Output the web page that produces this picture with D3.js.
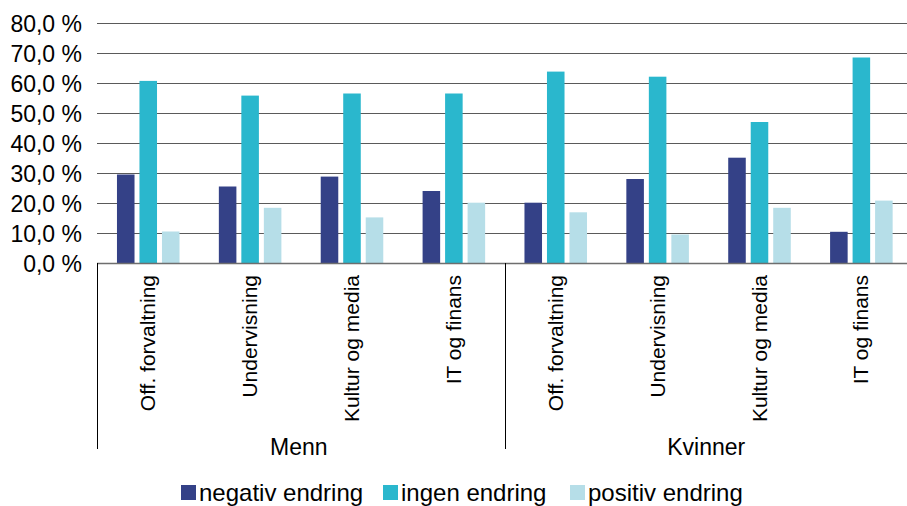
<!DOCTYPE html>
<html>
<head>
<meta charset="utf-8">
<script src="https://cdn.jsdelivr.net/npm/d3@7"></script>
<style>
  html, body { margin: 0; padding: 0; background: #fff; }
  svg { display: block; font-family: "Liberation Sans", Arial, sans-serif; }
</style>
</head>
<body>
<svg id="chart" width="907" height="506"></svg>
<script>
const groups = ["Menn", "Kvinner"];
const categories = ["Off. forvaltning", "Undervisning", "Kultur og media", "IT og finans"];
const seriesNames = ["negativ endring", "ingen endring", "positiv endring"];
const seriesColors = ["#344187", "#2AB7CD", "#B6DEE8"];
const negativ = [29.5, 25.5, 28.8, 24.0, 20.1, 28.0, 35.1, 10.4];
const ingen   = [60.7, 55.8, 56.5, 56.5, 63.8, 62.1, 47.0, 68.5];
const positiv = [10.5, 18.4, 15.2, 20.1, 16.9, 9.5, 18.4, 20.8];
const yTicks = [0, 10, 20, 30, 40, 50, 60, 70, 80];

const seriesValues = [negativ, ingen, positiv];
const rows = [];
groups.forEach((g, gi) => categories.forEach((c, ci) => {
  const idx = gi * categories.length + ci;
  rows.push({ key: g + "|" + c, group: g, cat: c, values: seriesValues.map(s => s[idx]) });
}));

const svg = d3.select("#chart");
const pLeft = 97, pRight = 912, pTop = 23, pBottom = 263;

const y = d3.scaleLinear().domain([0, 80]).range([pBottom, pTop]);
const x0 = d3.scaleBand().domain(rows.map(r => r.key)).range([pLeft, pRight]).padding(0);
const bw = x0.bandwidth();
const x1 = d3.scaleBand().domain(seriesNames).range([bw * 0.196, bw * 0.81]).paddingInner(0.22);
const xg = d3.scaleBand().domain(groups).range([pLeft, pRight]).padding(0);

// gridlines
svg.append("g").selectAll("line").data(yTicks.filter(t => t > 0)).join("line")
  .attr("x1", pLeft).attr("x2", pRight)
  .attr("y1", d => Math.round(y(d)) + 0.5).attr("y2", d => Math.round(y(d)) + 0.5)
  .attr("stroke", "#5a5a5a").attr("stroke-width", 1);

// y axis labels
const yAxis = d3.axisLeft(y).tickValues(yTicks).tickSize(0).tickPadding(0)
  .tickFormat(d => d3.format(".1f")(d).replace(".", ",") + " %");
const ya = svg.append("g").attr("transform", `translate(${pLeft - 15},0)`).call(yAxis);
ya.select(".domain").remove();
ya.selectAll("text").attr("font-size", 23).attr("fill", "#000")
  .attr("font-family", "Liberation Sans, Arial, sans-serif").attr("dy", "0.35em");

// bars
const catG = svg.append("g").selectAll("g").data(rows).join("g")
  .attr("transform", d => `translate(${x0(d.key)},0)`);
catG.selectAll("rect").data(d => d.values.map((v, i) => ({ s: seriesNames[i], v, i }))).join("rect")
  .attr("x", d => x1(d.s)).attr("width", x1.bandwidth())
  .attr("y", d => y(d.v)).attr("height", d => y(0) - y(d.v))
  .attr("fill", d => seriesColors[d.i]);

// x baseline
svg.append("line").attr("x1", pLeft).attr("x2", pRight)
  .attr("y1", Math.round(y(0)) + 0.5).attr("y2", Math.round(y(0)) + 0.5)
  .attr("stroke", "#6e6e6e").attr("stroke-width", 1.5);

// group separators
const seps = [pLeft].concat(groups.map(g => xg(g) + xg.bandwidth()));
svg.append("g").selectAll("line").data(seps).join("line")
  .attr("x1", d => Math.round(d) + 0.5).attr("x2", d => Math.round(d) + 0.5)
  .attr("y1", pBottom).attr("y2", 449)
  .attr("stroke", "#000").attr("stroke-width", 1);

// category labels
svg.append("g").selectAll("text").data(rows).join("text")
  .attr("transform", d => `translate(${x0(d.key) + bw / 2},275) rotate(-90)`)
  .attr("text-anchor", "end").attr("dy", "0.35em")
  .attr("font-size", 21).attr("fill", "#000")
  .text(d => d.cat);

// group labels
svg.append("g").selectAll("text").data(groups).join("text")
  .attr("x", d => xg(d) + xg.bandwidth() / 2 - 2).attr("y", 455)
  .attr("text-anchor", "middle").attr("font-size", 23).attr("fill", "#000")
  .text(d => d);

// legend
const legendX = [181, 383, 570];
const lg = svg.append("g").selectAll("g").data(seriesNames).join("g")
  .attr("transform", (d, i) => `translate(${legendX[i]},485)`);
lg.append("rect").attr("width", 15).attr("height", 15).attr("fill", (d, i) => seriesColors[i]);
lg.append("text").attr("x", 18).attr("y", 8).attr("dy", "0.35em")
  .attr("font-size", 24).attr("fill", "#000").text(d => d);
</script>
</body>
</html>
